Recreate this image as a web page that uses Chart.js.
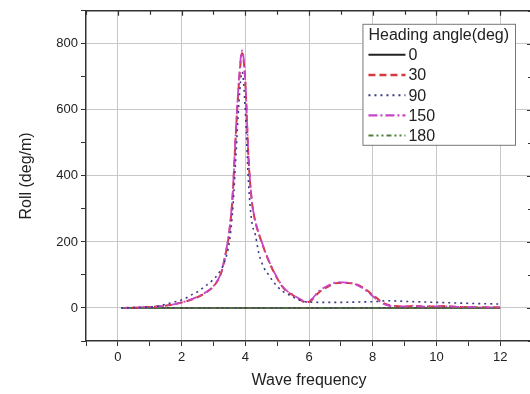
<!DOCTYPE html>
<html>
<head>
<meta charset="utf-8">
<script src="https://cdn.jsdelivr.net/npm/chart.js@4/dist/chart.umd.min.js"></script>
<style>
  html, body { margin: 0; padding: 0; background: #fff; overflow: hidden; }
  #wrap { width: 536px; height: 394px; }
</style>
</head>
<body>
<div id="wrap"><canvas id="rollChart" width="536" height="394"></canvas></div>
<script>
// Roll response vs wave frequency
const headings = ["0", "30", "90", "150", "180"];

const freqFlat = [0.1, 12];
const rollFlat = [0, 0];

const freqMain = [0.1, 0.5, 1.0, 1.3, 1.8, 2.3, 2.75, 3.05, 3.25, 3.4, 3.5, 3.6, 3.7, 3.8, 3.9, 4.0, 4.1, 4.2, 4.3, 4.5, 4.8, 5.2, 5.5, 5.75, 5.9, 6.1, 6.3, 6.6, 6.9, 7.2, 7.5, 7.8, 8.1, 8.4, 8.7, 9.0, 9.3, 9.6, 10.0, 10.3, 10.7, 11.0, 11.5, 12.0];
const roll30 = [0, 1, 3, 5, 12, 25, 46, 71, 108, 172, 232, 335, 520, 680, 772, 685, 455, 328, 268, 203, 128, 60, 38, 24, 16, 25, 46, 65, 76, 76, 71, 55, 32, 12, 6, 4, 6, 4, 5, 6, 3, 3, 2, 2];
const roll150 = [0, 1, 3, 5, 12, 26, 47, 72, 110, 175, 235, 340, 530, 690, 780, 690, 460, 330, 270, 205, 130, 62, 40, 25, 18, 28, 50, 68, 78, 77, 70, 52, 28, 10, 5, 5, 7, 4, 5, 5, 3, 3, 2, 2];

const freq90 = [0.1, 0.5, 1.0, 1.3, 1.6, 1.85, 2.1, 2.35, 2.55, 2.75, 2.95, 3.2, 3.35, 3.5, 3.6, 3.7, 3.8, 3.9, 4.0, 4.1, 4.2, 4.32, 4.42, 4.58, 4.75, 4.9, 5.15, 5.45, 5.75, 6.0, 6.5, 7.0, 7.5, 8.0, 8.5, 9.0, 10.0, 11.0, 12.0];
const roll90 = [0, 1, 3, 6, 14, 20, 28, 42, 52, 67, 82, 110, 140, 200, 290, 450, 620, 715, 600, 380, 265, 220, 168, 123, 98, 77, 52, 36, 22, 18, 17, 17, 18, 19, 22, 20, 17, 14, 12];

const xLabels = [0, 2, 4, 6, 8, 10, 12];
const yLabels = [0, 200, 400, 600, 800];

const toPoints = (xs, ys) => xs.map((x, i) => ({ x: x, y: ys[i] }));

const FONT = "'Liberation Sans', Arial, sans-serif";

// inward tick marks on the top and right frame
const innerTicks = {
  id: "innerTicks",
  afterDraw(chart) {
    const ctx = chart.ctx;
    const area = chart.chartArea;
    const sx = chart.scales.x;
    const sy = chart.scales.y;
    ctx.save();
    ctx.strokeStyle = "#333";
    ctx.lineWidth = 1.2;
    ctx.beginPath();
    sx.ticks.forEach((t) => {
      const px = Math.round(sx.getPixelForValue(t.value)) + 0.5;
      const len = xLabels.includes(t.value) ? 5 : 4;
      ctx.moveTo(px, area.top);
      ctx.lineTo(px, area.top + len);
    });
    sy.ticks.forEach((t) => {
      const py = Math.round(sy.getPixelForValue(t.value)) + 0.5;
      const len = yLabels.includes(t.value) ? 5 : 4;
      ctx.moveTo(area.right, py);
      ctx.lineTo(area.right - len, py);
    });
    ctx.stroke();
    ctx.restore();
  },
};

// legend box drawn inside the plot, top right
const boxLegend = {
  id: "boxLegend",
  afterDraw(chart) {
    const ctx = chart.ctx;
    const area = chart.chartArea;
    const sets = chart.data.datasets;
    const titleFont = "16px " + FONT;
    const itemFont = "16px " + FONT;
    const sample = 37;
    const rowH = 20.2;
    ctx.save();
    ctx.font = titleFont;
    const titleW = ctx.measureText("Heading angle(deg)").width;
    const w = titleW + 12;
    const h = 121;
    const right = area.right - 17;
    const left = right - w;
    const top = area.top + 13;
    ctx.fillStyle = "#fff";
    ctx.fillRect(left, top, w, h);
    ctx.strokeStyle = "#777";
    ctx.lineWidth = 1;
    ctx.strokeRect(left + 0.5, top + 0.5, w, h);
    ctx.fillStyle = "#222";
    ctx.textBaseline = "middle";
    ctx.fillText("Heading angle(deg)", left + 6, top + 12);
    ctx.font = itemFont;
    sets.forEach((ds, i) => {
      const y = top + 31 + i * rowH;
      ctx.strokeStyle = ds.borderColor;
      ctx.lineWidth = ds.borderWidth + 0.4;
      ctx.setLineDash(ds.borderDash || []);
      ctx.beginPath();
      ctx.moveTo(left + 6, y);
      ctx.lineTo(left + 6 + sample, y);
      ctx.stroke();
      ctx.setLineDash([]);
      ctx.fillStyle = "#222";
      ctx.fillText(ds.label, left + 9 + sample, y + 1);
    });
    ctx.restore();
  },
};

const rollCtx = document.getElementById("rollChart").getContext("2d");
new Chart(rollCtx, {
  type: "line",
  data: {
    datasets: [
      {
        label: headings[0],
        data: toPoints(freqFlat, rollFlat),
        borderColor: "#222222",
        borderWidth: 1.5,
        borderDash: [],
        order: 5,
      },
      {
        label: headings[1],
        data: toPoints(freqMain, roll30),
        borderColor: "#d8383c",
        borderWidth: 2,
        borderDash: [7, 4],
        order: 2,
      },
      {
        label: headings[2],
        data: toPoints(freq90, roll90),
        borderColor: "#3a3a8c",
        borderWidth: 1.6,
        borderDash: [2, 4],
      },
      {
        label: headings[3],
        data: toPoints(freqMain, roll150),
        borderColor: "#c844c8",
        borderWidth: 1.8,
        borderDash: [9, 3, 2, 3],
        order: 1,
      },
      {
        label: headings[4],
        data: toPoints(freqFlat, rollFlat),
        borderColor: "#4f7f3a",
        borderWidth: 1.6,
        borderDash: [5, 3, 2, 3, 2, 3],
      },
    ],
  },
  options: {
    responsive: false,
    animation: false,
    layout: { padding: { top: 9, right: 2, left: 13, bottom: 0 } },
    elements: {
      point: { radius: 0 },
      line: { cubicInterpolationMode: "monotone", fill: false },
    },
    plugins: {
      legend: { display: false },
      tooltip: { enabled: false },
    },
    scales: {
      x: {
        type: "linear",
        min: -1,
        max: 13,
        afterFit: (s) => { s.height = 53; },
        border: { color: "#333", width: 1.5 },
        grid: {
          color: (c) => (xLabels.includes(c.tick.value) ? "#c8c8c8" : "rgba(0,0,0,0)"),
          tickColor: "#333",
          tickLength: 5,
        },
        ticks: {
          stepSize: 1,
          autoSkip: false,
          maxRotation: 0,
          padding: 4,
          color: "#222",
          font: { family: FONT, size: 13 },
          callback: (v) => (xLabels.includes(v) ? String(v) : ""),
        },
        title: {
          display: true,
          text: "Wave frequency",
          color: "#222",
          font: { family: FONT, size: 16 },
          padding: { top: 3 },
        },
      },
      x2: {
        type: "linear",
        position: "top",
        min: -1,
        max: 13,
        afterFit: (s) => { s.height = 0; },
        border: { color: "#333", width: 1.5 },
        grid: { drawOnChartArea: false, drawTicks: false },
        ticks: { display: false },
      },
      y: {
        min: -100,
        max: 900,
        afterFit: (s) => { s.width = 73; },
        border: { color: "#333", width: 1.5 },
        grid: {
          color: (c) => (yLabels.includes(c.tick.value) ? "#c8c8c8" : "rgba(0,0,0,0)"),
          tickColor: "#333",
          tickLength: 5,
        },
        ticks: {
          stepSize: 100,
          autoSkip: false,
          padding: 3,
          color: "#222",
          font: { family: FONT, size: 13 },
          callback: (v) => (yLabels.includes(v) ? String(v) : ""),
        },
        title: {
          display: true,
          text: "Roll (deg/m)",
          color: "#222",
          font: { family: FONT, size: 16 },
          padding: { bottom: 8 },
        },
      },
      y2: {
        position: "right",
        min: -100,
        max: 900,
        afterFit: (s) => { s.width = 0; },
        border: { color: "#333", width: 1.5 },
        grid: { drawOnChartArea: false, drawTicks: false },
        ticks: { display: false },
      },
    },
  },
  plugins: [innerTicks, boxLegend],
});
</script>
</body>
</html>
